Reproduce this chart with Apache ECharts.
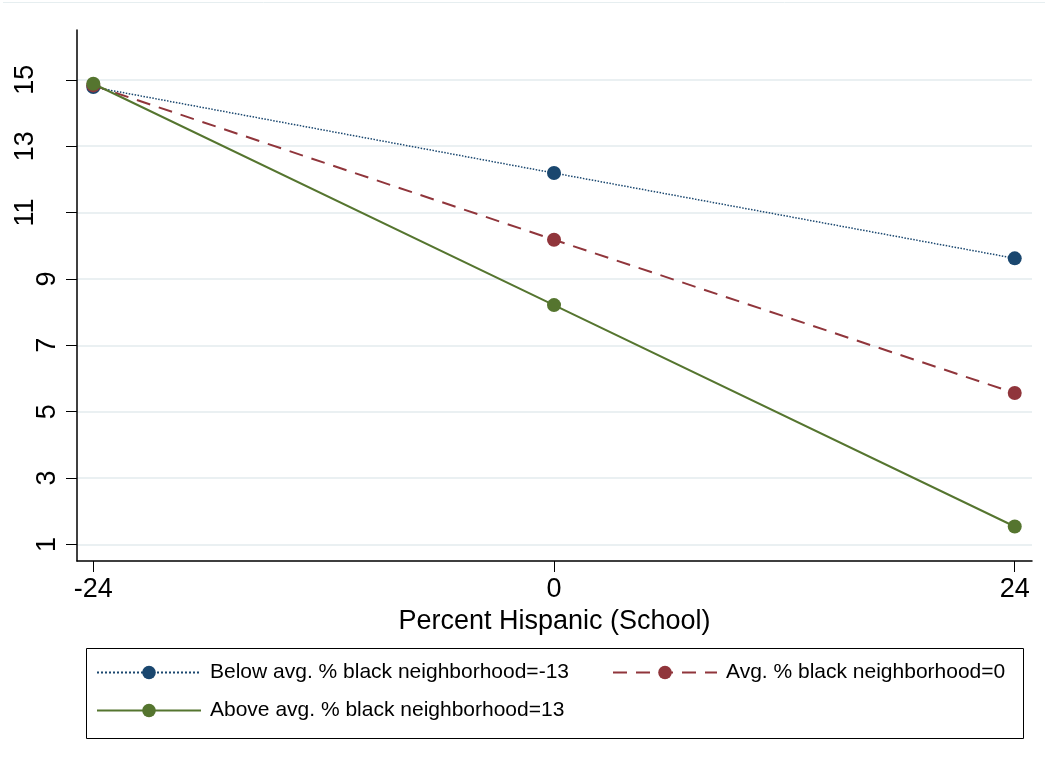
<!DOCTYPE html>
<html>
<head>
<meta charset="utf-8">
<script src="https://cdn.jsdelivr.net/npm/echarts@6/dist/echarts.min.js"></script>
<style>html,body{margin:0;padding:0;background:#fff}#c{width:1045px;height:767px}</style>
</head>
<body>
<div id="c"></div>
<script>
const xValues = [-24, 0, 24];
const xTicks = [-24, 0, 24];
const yTicks = [1, 3, 5, 7, 9, 11, 13, 15];
const seriesNames = ['Below avg. % black neighborhood=-13', 'Avg. % black neighborhood=0', 'Above avg. % black neighborhood=13'];
const below = [14.78, 12.19, 9.62];
const avg = [14.83, 10.18, 5.56];
const above = [14.88, 8.21, 1.54];

const colors = ['#1a476f', '#90353b', '#55752f'];
const lineTypes = ['dotted', [14, 9], 'solid'];
const widths = [1.5, 2, 2];
const datasets = [below, avg, above];
const FONT = 'Liberation Sans, Arial, sans-serif';

const chart = echarts.init(document.getElementById('c'), null, {renderer: 'canvas'});

const series = datasets.map((d, i) => ({
  name: seriesNames[i],
  type: 'line',
  data: xValues.map((x, j) => [x, d[j]]),
  symbol: 'circle',
  symbolSize: 14,
  showSymbol: true,
  color: colors[i],
  itemStyle: {color: colors[i]},
  lineStyle: {color: colors[i], width: widths[i], type: lineTypes[i]},
  z: 2 + i,
  animation: false
}));

function legendFor(i, left, top) {
  return {
    data: [seriesNames[i]],
    left: left, top: top,
    itemWidth: 104, itemHeight: 17, itemGap: 0,
    padding: 0,
    textStyle: {fontSize: 21, fontFamily: FONT, color: '#000', padding: [0, 0, 0, 4]},
    selectedMode: false
  };
}

chart.setOption({
  animation: false,
  backgroundColor: '#fff',
  grid: {left: 77, right: 13, top: 30, bottom: 206},
  xAxis: {
    type: 'value', min: -24.85, max: 24.9,
    name: 'Percent Hispanic (School)', nameLocation: 'middle', nameGap: 41,
    nameTextStyle: {fontSize: 27, fontFamily: FONT, color: '#000'},
    axisLine: {show: true, onZero: false, lineStyle: {color: '#000', width: 1.5}},
    axisTick: {show: true, length: 11, lineStyle: {color: '#000', width: 1}, customValues: xTicks},
    axisLabel: {fontSize: 27, fontFamily: FONT, color: '#000', margin: 15, customValues: xTicks},
    splitLine: {show: false}
  },
  yAxis: {
    type: 'value', min: 0.5, max: 16.5,
    axisLine: {show: true, onZero: false, lineStyle: {color: '#000', width: 1.5}},
    axisTick: {show: true, length: 11, lineStyle: {color: '#000', width: 1}, customValues: yTicks},
    axisLabel: {
      fontSize: 27, fontFamily: FONT, color: '#000', rotate: 90, margin: 16, customValues: yTicks,
      formatter: function (v) { return String(v).length > 1 ? '{w|' + v + '}' : '{n|' + v + '}'; },
      rich: {
        w: {fontSize: 27, fontFamily: FONT, color: '#000', padding: [0, 0, 22, 0]},
        n: {fontSize: 27, fontFamily: FONT, color: '#000'}
      }
    },
    splitLine: {show: true, lineStyle: {color: '#eaf0f2', width: 2}}
  },
  legend: [
    legendFor(0, 96, 662),
    legendFor(1, 612, 662),
    legendFor(2, 96, 700)
  ],
  graphic: [
    {type: 'rect', shape: {x: 86.5, y: 648.5, width: 937, height: 90}, style: {fill: null, stroke: '#000', lineWidth: 1}, silent: true},
    {type: 'line', shape: {x1: 3, y1: 2.5, x2: 1045, y2: 2.5}, style: {stroke: '#e6eef0', lineWidth: 1}, silent: true}
  ],
  series: series
});
</script>
</body>
</html>
